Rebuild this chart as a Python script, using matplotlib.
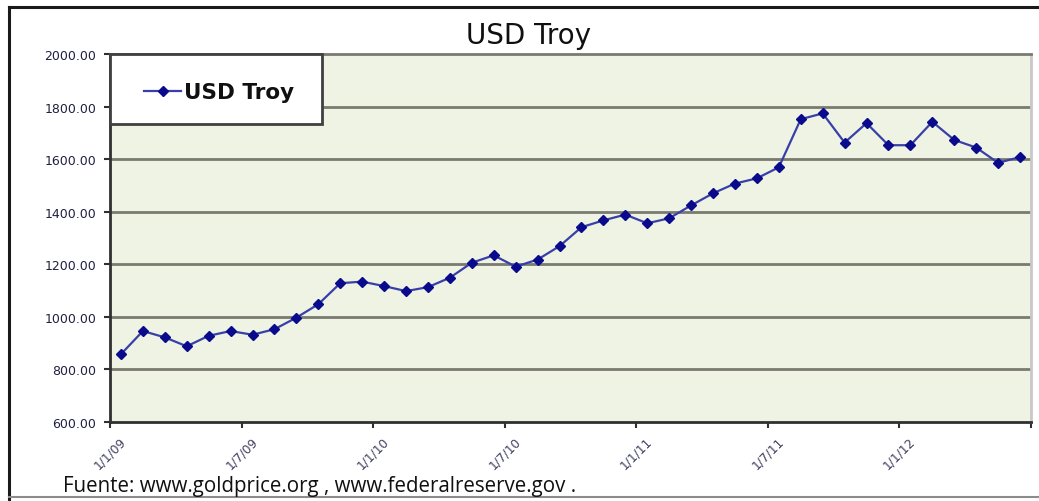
import matplotlib
matplotlib.use("Agg")
import matplotlib.pyplot as plt
from matplotlib.lines import Line2D
from matplotlib.patches import Rectangle

# Monthly gold price, USD per troy ounce, Jan 2009 - Jun 2012
months = list(range(42))
usd_troy = [858, 946, 922, 888, 928, 946, 932, 953, 997, 1048,
            1128, 1134, 1117, 1098, 1113, 1149, 1206, 1234, 1191, 1218,
            1269, 1341, 1367, 1389, 1356, 1375, 1424, 1470, 1507, 1527,
            1569, 1752, 1774, 1663, 1737, 1653, 1653, 1742, 1673, 1644,
            1586, 1608]
tick_labels = ["1/1/09", "1/7/09", "1/1/10", "1/7/10", "1/1/11", "1/7/11", "1/1/12", ""]
y_ticks = [600, 800, 1000, 1200, 1400, 1600, 1800, 2000]

plt.rcParams['font.family'] = ['DejaVu Sans']

W, H = 1039, 502
fig = plt.figure(figsize=(W / 100, H / 100), dpi=100)
fig.patch.set_facecolor("white")

def fx(px):
    return px / W

def fy(py):
    return 1 - py / H

# outer frame of the chart
fig.add_artist(Line2D([fx(9), 1.0], [fy(8), fy(8)], color="#1a1a1a", lw=2.2))
fig.add_artist(Line2D([fx(9), fx(9)], [fy(8), 0.0], color="#1a1a1a", lw=2.2))
fig.add_artist(Line2D([fx(9), 1.0], [fy(498), fy(498)], color="#8c8c8c", lw=1.5))

ax = fig.add_axes([fx(110), fy(423), fx(1031) - fx(110), fy(55) - fy(423)])
ax.set_facecolor("#EFF3E4")

x = [m + 0.5 for m in months]
ax.plot(x, usd_troy, color="#3840A8", lw=1.6, marker="D",
        markersize=5.5, markerfacecolor="#0A0A8C",
        markeredgecolor="#0A0A8C", zorder=3)

ax.set_xlim(0, 42)
ax.set_ylim(600, 2000)
ax.set_yticks(y_ticks)
ax.set_yticklabels([f"{v:.2f}" for v in y_ticks], fontsize=9, color="#202040")
ax.set_xticks(range(0, 43, 6))
ax.set_xticklabels(tick_labels, rotation=45, ha="center", va="top",
                   fontsize=8.8, color="#404060")

for v in y_ticks[1:-1]:
    ax.axhline(v, color="#7a7a70", lw=2.0, zorder=1)

ax.tick_params(axis="both", direction="out", length=4, width=1.5, color="#303030")
ax.tick_params(axis="x", pad=5)
ax.tick_params(axis="y", pad=6)
for side in ("left", "bottom"):
    ax.spines[side].set_color("#303030")
    ax.spines[side].set_linewidth(2)
ax.spines["top"].set_color("#7a7a70")
ax.spines["top"].set_linewidth(2)
ax.spines["right"].set_color("#c8c8c8")
ax.spines["right"].set_linewidth(2)

# legend box in the upper left corner of the plot area
fig.add_artist(Rectangle((fx(110), fy(125)), fx(322) - fx(110), fy(55) - fy(125),
                         facecolor="white", edgecolor="#404040", lw=2, zorder=5))
fig.add_artist(Line2D([fx(144), fx(181)], [fy(92), fy(92)], color="#3840A8", lw=1.6,
                      zorder=6))
fig.add_artist(Line2D([fx(162.5)], [fy(92)], color="#0A0A8C", marker="D",
                      markersize=5.5, zorder=7))
fig.text(fx(184), fy(93), "USD Troy", fontsize=15.5, fontweight="bold",
         ha="left", va="center", color="#101010", zorder=7)

fig.text(fx(529), fy(36), "USD Troy", fontsize=20, ha="center", va="center",
         color="#101010")

fig.text(fx(63), fy(487), "Fuente: www.goldprice.org , www.federalreserve.gov .",
         fontsize=14.8, ha="left", va="center", color="#101010",
         family=["Open Sans", "DejaVu Sans"])

fig.savefig("out.png", dpi=100)
